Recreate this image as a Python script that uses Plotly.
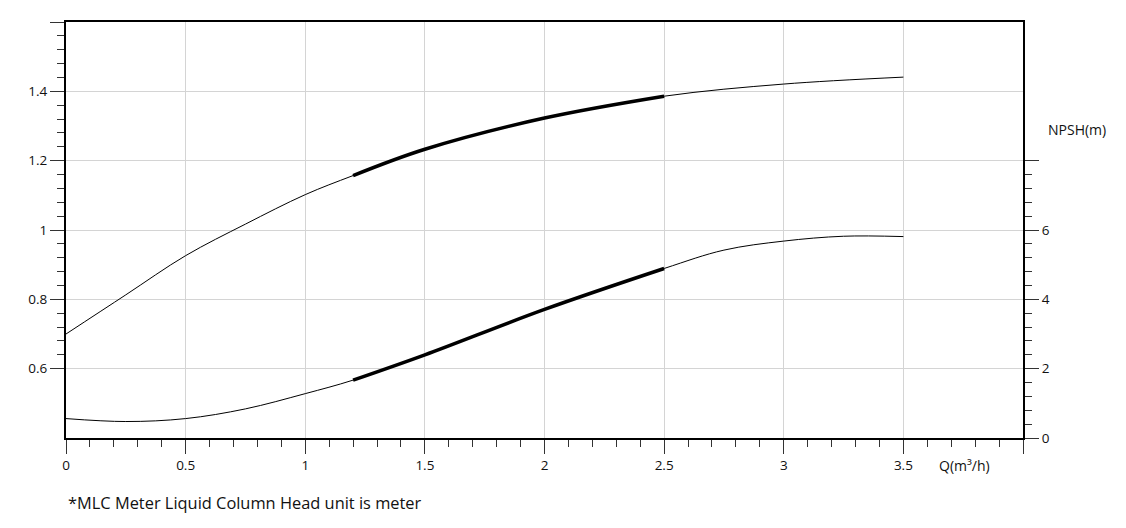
import plotly.graph_objects as go

# Flow Q (m3/h)
q_head = [0, 0.25, 0.5, 0.75, 1.0, 1.2, 1.5, 2.0, 2.5, 3.0, 3.5]
head = [0.70, 0.813, 0.926, 1.017, 1.102, 1.157, 1.233, 1.323, 1.386, 1.421, 1.441]

q_npsh = [0, 0.25, 0.5, 0.75, 1.0, 1.2, 1.5, 2.0, 2.5, 2.75, 3.0, 3.25, 3.5]
npsh = [0.56, 0.475, 0.56, 0.84, 1.28, 1.67, 2.40, 3.71, 4.89, 5.42, 5.68, 5.82, 5.81]

q_bold_lo, q_bold_hi = 1.2, 2.5

x_ticks = [0, 0.5, 1, 1.5, 2, 2.5, 3, 3.5, 4]
x_labels = ["0", "0.5", "1", "1.5", "2", "2.5", "3", "3.5", ""]
y_ticks = [0.6, 0.8, 1.0, 1.2, 1.4, 1.6]
y_labels = ["0.6", "0.8", "1", "1.2", "1.4", ""]
y2_ticks = [0, 2, 4, 6, 8]
y2_labels = ["0", "2", "4", "6", ""]

FONT = "Open Sans"


def segment(xs, ys, lo, hi):
    sx, sy = [], []
    for x, y in zip(xs, ys):
        if lo - 1e-9 <= x <= hi + 1e-9:
            sx.append(x)
            sy.append(y)
    return sx, sy


fig = go.Figure()
fig.add_trace(go.Scatter(x=q_head, y=head, mode="lines", line=dict(color="black", width=1, shape="spline"),
                         showlegend=False, hoverinfo="skip"))
bx, by = segment(q_head, head, q_bold_lo, q_bold_hi)
fig.add_trace(go.Scatter(x=bx, y=by, mode="lines", line=dict(color="black", width=3.5, shape="spline"),
                         showlegend=False, hoverinfo="skip"))
fig.add_trace(go.Scatter(x=q_npsh, y=npsh, mode="lines", yaxis="y2",
                         line=dict(color="black", width=1, shape="spline"),
                         showlegend=False, hoverinfo="skip"))
bx, by = segment(q_npsh, npsh, q_bold_lo, q_bold_hi)
fig.add_trace(go.Scatter(x=bx, y=by, mode="lines", yaxis="y2",
                         line=dict(color="black", width=3.5, shape="spline"),
                         showlegend=False, hoverinfo="skip"))

x_minor = [round(i * 0.1, 2) for i in range(41) if i % 5 != 0]
y_minor = [round(0.6 + i * 0.04, 3) for i in range(26) if i % 5 != 0]
y2_minor = [round(i * 0.4, 2) for i in range(21) if i % 5 != 0]

fig.update_layout(
    width=1126, height=528,
    margin=dict(l=58, r=111, t=12, b=98),
    paper_bgcolor="white", plot_bgcolor="white",
    font=dict(family=FONT, size=14, color="#111"),
    xaxis=dict(range=[0, 4], tickmode="array", tickvals=x_ticks, ticktext=x_labels,
               showgrid=True, gridcolor="#d4d4d4", gridwidth=1, zeroline=False,
               showline=True, linecolor="black", linewidth=2, mirror=True,
               ticks="outside", ticklen=14, tickwidth=1, tickcolor="#333",
               minor=dict(tickmode="array", tickvals=x_minor, ticks="outside", ticklen=7,
                          tickcolor="#333", tickwidth=1, showgrid=False),
               tickfont=dict(size=13.5)),
    yaxis=dict(range=[0.4, 1.6], tickmode="array", tickvals=y_ticks, ticktext=y_labels,
               showgrid=True, gridcolor="#d4d4d4", gridwidth=1, zeroline=False,
               showline=True, linecolor="black", linewidth=2,
               ticks="outside", ticklen=14, tickwidth=1, tickcolor="#333",
               minor=dict(tickmode="array", tickvals=y_minor, ticks="outside", ticklen=7,
                          tickcolor="#333", tickwidth=1, showgrid=False),
               tickfont=dict(size=13.5)),
    yaxis2=dict(range=[0, 12], overlaying="y", side="right", anchor="x",
                tickmode="array", tickvals=y2_ticks, ticktext=y2_labels,
                showgrid=False, zeroline=False,
                showline=True, linecolor="black", linewidth=2,
                ticks="outside", ticklen=14, tickwidth=1, tickcolor="#333",
                minor=dict(tickmode="array", tickvals=y2_minor, ticks="outside", ticklen=7,
                           tickcolor="#333", tickwidth=1, showgrid=False),
                tickfont=dict(size=13.5)),
    annotations=[
        dict(text="NPSH(m)", xref="paper", yref="paper", x=1.0564, y=0.7416,
             xanchor="center", yanchor="middle", showarrow=False, font=dict(size=14)),
        dict(text="Q(m³/h)", xref="paper", yref="paper", x=0.939, y=-0.067,
             xanchor="center", yanchor="middle", showarrow=False, font=dict(size=14)),
        dict(text="*MLC Meter Liquid Column Head unit is meter", xref="paper", yref="paper",
             x=0.0, y=-0.1555, xanchor="left", yanchor="middle", showarrow=False,
             font=dict(size=16.4)),
    ],
)

fig.write_html("out.html")
